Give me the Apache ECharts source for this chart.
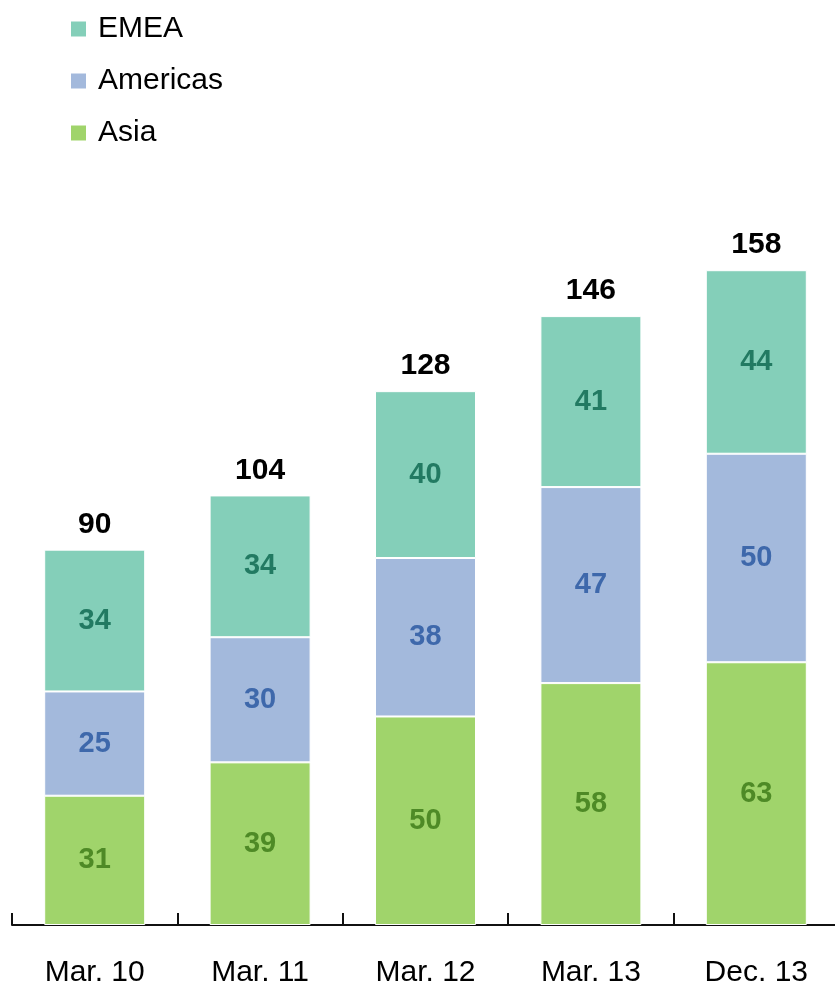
<!DOCTYPE html>
<html>
<head>
<meta charset="utf-8">
<script src="https://cdn.jsdelivr.net/npm/echarts@6/dist/echarts.min.js"></script>
<style>
	html,body{margin:0;padding:0;background:#fff;}
	#chart{width:835px;height:989px;}
</style>
</head>
<body>
<div id="chart"></div>
<script>
	// 数据
	const categories = ['Mar. 10', 'Mar. 11', 'Mar. 12', 'Mar. 13', 'Dec. 13'];
	const asiaData = [31, 39, 50, 58, 63];
	const americasData = [25, 30, 38, 47, 50];
	const emeaData = [34, 34, 40, 41, 44];
	const totalData = [90, 104, 128, 146, 158];

	const myChart = echarts.init(document.getElementById('chart'));
	const fontFamily = 'Liberation Sans, Arial, sans-serif';

	const segLabel = function(color){
		return {
			show: true,
			position: 'inside',
			color: color,
			fontSize: 29,
			fontWeight: 'bold',
			fontFamily: fontFamily
		};
	};

	const option = {
		backgroundColor: '#fff',
		animation: false,
		legend: {
			orient: 'vertical',
			left: 64,
			top: 9,
			itemWidth: 17,
			itemHeight: 17,
			itemGap: 22,
			icon: 'rect',
			data: ['EMEA', 'Americas', 'Asia'],
			textStyle: {fontSize: 30, color: '#000', fontFamily: fontFamily, padding: [0, 0, 0, 6]}
		},
		grid: {
			left: 12,
			right: -4,
			top: 216,
			bottom: 64,
			containLabel: false,
			outerBoundsMode: 'none'
		},
		xAxis: {
			type: 'category',
			data: categories,
			axisLine: {lineStyle: {color: '#111', width: 2}},
			axisTick: {show: true, inside: true, length: 12, lineStyle: {color: '#111', width: 2}},
			axisLabel: {fontSize: 30, color: '#000', margin: 33, fontFamily: fontFamily}
		},
		yAxis: {
			type: 'value',
			min: 0,
			max: 170,
			show: false,
			splitLine: {show: false}
		},
		series: [
			{
				name: 'Asia',
				type: 'bar',
				stack: 'total',
				data: asiaData,
				barWidth: 101,
				itemStyle: {color: '#a0d46b', borderColor: '#fff', borderWidth: 1},
				label: segLabel('#4e8a26')
			},
			{
				name: 'Americas',
				type: 'bar',
				stack: 'total',
				data: americasData,
				barWidth: 101,
				itemStyle: {color: '#a3b9dc', borderColor: '#fff', borderWidth: 1},
				label: segLabel('#3e68ab')
			},
			{
				name: 'EMEA',
				type: 'bar',
				stack: 'total',
				data: emeaData,
				barWidth: 101,
				itemStyle: {color: '#84cfb9', borderColor: '#fff', borderWidth: 1},
				label: segLabel('#227a62')
			},
			{
				// 合计标签
				name: 'Total',
				type: 'bar',
				stack: 'total',
				data: totalData.map(function(){ return 0; }),
				barWidth: 101,
				itemStyle: {color: 'rgba(0,0,0,0)'},
				label: {
					show: true,
					position: 'top',
					distance: 10,
					color: '#000',
					fontSize: 30,
					fontWeight: 'bold',
					fontFamily: fontFamily,
					formatter: function(p){
						return totalData[p.dataIndex];
					}
				}
			}
		]
	};

	myChart.setOption(option);
</script>
</body>
</html>
